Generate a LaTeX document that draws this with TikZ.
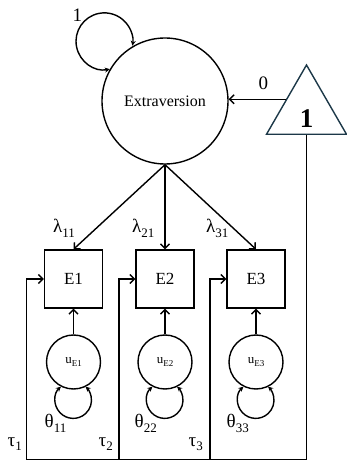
\documentclass[tikz,border=0pt]{standalone}
\usepackage{fontspec}
\setmainfont{Liberation Serif}
\usetikzlibrary{arrows.meta,shapes.geometric}
\definecolor{tricol}{RGB}{28,56,72}
% subscripts for the path labels and for the residual terms
\newcommand{\pathsub}[1]{\raisebox{-4.5pt}{\fontsize{13}{13}\selectfont #1}}
\newcommand{\ressub}[1]{\raisebox{-2.5pt}{\fontsize{9}{9}\selectfont #1}}
\begin{document}
\begin{tikzpicture}[x=1pt,y=1pt,
  line width=1.4pt,
  >={Straight Barb[length=4.5pt,width=9pt]},
  latent/.style={circle,draw,inner sep=0pt},
  manifest/.style={rectangle,draw,minimum width=58pt,minimum height=58pt,inner sep=0pt,font=\fontsize{17}{17}\selectfont},
  resid/.style={circle,draw,minimum size=54pt,inner sep=0pt,font=\fontsize{13}{13}\selectfont},
  lbl/.style={inner sep=0pt,anchor=base west,font=\fontsize{19}{19}\selectfont},
  varloop/.style={{Stealth[length=5pt,width=5pt]}-{Stealth[length=5pt,width=5pt]}}]
\useasboundingbox (0,0) rectangle (346,461);

% latent factor and mean constant
\node[latent,minimum size=126pt,font=\fontsize{16}{16}\selectfont] (ext) at (165,360) {Extraversion};
\node[regular polygon,regular polygon sides=3,draw=tricol,minimum size=92.4pt,inner sep=0pt] (tri) at (306.5,349.8) {};
\node[inner sep=0pt,font=\fontsize{27}{27}\selectfont\bfseries] (one) at (306.5,342) {1};

% indicators
\node[manifest] (E1) at (73.5,182) {E1};
\node[manifest] (E2) at (165,182) {E2};
\node[manifest] (E3) at (256,182) {E3};

% residuals
\node[resid] (u1) at (73.5,99) {u\ressub{E1}};
\node[resid] (u2) at (165,99) {u\ressub{E2}};
\node[resid] (u3) at (256,99) {u\ressub{E3}};

% factor variance and mean
\draw[varloop] (ext.150) arc[start angle=281,end angle=-9,radius=28.4];
\node[lbl] (lv) at (72,439) {1};
\draw[->] (tri.side 1) -- (tri.side 1 -| ext.east);
\node[lbl] (lm) at (258,371) {0};

% loadings
\draw[->] (ext.south) -- (E1.north);
\draw[->] (ext.south) -- (E2.north);
\draw[->] (ext.south) -- (E3.north);
\node[lbl] (l1) at (52.5,228) {λ\pathsub{11}};
\node[lbl] (l2) at (131.5,228) {λ\pathsub{21}};
\node[lbl] (l3) at (205.5,228) {λ\pathsub{31}};

% residual paths and variances
\draw[->] (u1.north) -- (E1.south);
\draw[->] (u2.north) -- (E2.south);
\draw[->] (u3.north) -- (E3.south);
\draw[varloop] (u1.243) arc[start angle=132.5,end angle=407.5,radius=18.25];
\draw[varloop] (u2.243) arc[start angle=132.5,end angle=407.5,radius=18.25];
\draw[varloop] (u3.243) arc[start angle=132.5,end angle=407.5,radius=18.25];
\node[lbl] (t11) at (44,33) {θ\pathsub{11}};
\node[lbl] (t22) at (134,33) {θ\pathsub{22}};
\node[lbl] (t33) at (226,33) {θ\pathsub{33}};

% intercepts from the constant
\coordinate (b1) at (26.5,1.2);
\coordinate (b2) at (119,1.2);
\coordinate (b3) at (210,1.2);
\draw (tri.side 2) |- (b1);
\draw[->] (b1) |- (E1.west);
\draw[->] (b2) |- (E2.west);
\draw[->] (b3) |- (E3.west);
\node[lbl] (tau1) at (7,14.5) {τ\pathsub{1}};
\node[lbl] (tau2) at (98,14.5) {τ\pathsub{2}};
\node[lbl] (tau3) at (188,14.5) {τ\pathsub{3}};
\end{tikzpicture}
\end{document}
